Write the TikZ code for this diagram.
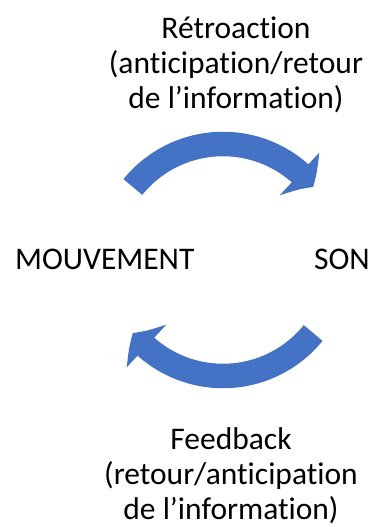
\documentclass[tikz,border=0pt]{standalone}
\usepackage{fontspec}
\setmainfont{Carlito}[Ligatures=NoCommon]
\usepackage{xcolor}
\usepackage{tikz}
\usetikzlibrary{arrows.meta, bending, positioning}
\definecolor{loopblue}{HTML}{4472C4}

\begin{document}
\begin{tikzpicture}[
  x=1pt, y=1pt,
  txt/.style={inner sep=0pt, font=\fontsize{31.5}{35}\selectfont, align=center},
  bigarrow/.style={draw=loopblue, line width=24.5pt,
    -{Triangle[length=19pt, width=57pt, bend]}}
]
  \useasboundingbox (0,0) rectangle (372,527);
  \coordinate (c) at (223,267);

  \node[txt, anchor=base west] (mv) at (15,257.5) {MOUVEMENT};
  \node[txt, anchor=base east] (son) at (370,257.5) {SON};
  \node[txt, anchor=north] (retro) at (236,510) {Rétroaction\\(anticipation/retour\\de l’information)};
  \node[txt, anchor=north] (feed) at (231,100) {Feedback\\(retour/anticipation\\de l’information)};

  \draw[bigarrow] ([shift={(141:116)}]c) arc[start angle=141, end angle=39, radius=116];
  \draw[bigarrow] ([shift={(-39:116)}]c) arc[start angle=-39, end angle=-141, radius=116];
\end{tikzpicture}
\end{document}
